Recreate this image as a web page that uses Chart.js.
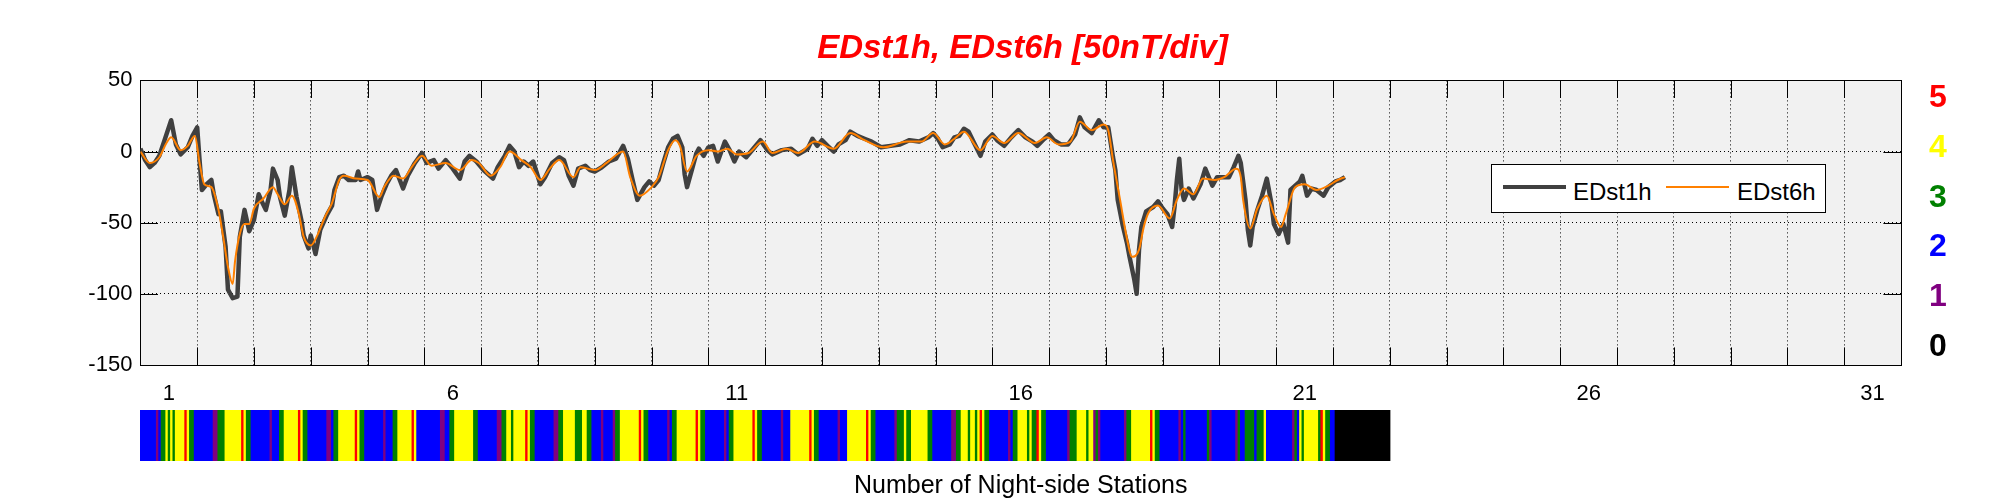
<!DOCTYPE html>
<html lang="en">
<head>
<meta charset="UTF-8">
<title>EDst1h, EDst6h</title>
<script src="https://cdn.jsdelivr.net/npm/chart.js"></script>
<style>
  body { margin: 0; background: #fff; font-family: "Liberation Sans", Arial, Helvetica, sans-serif; }
  #wrap { position: relative; width: 2001px; height: 500px; }
  #mainChart { position: absolute; left: 0; top: 0; }
  #barBox { position: absolute; left: 140px; top: 410px; width: 1761px; height: 51px; }
  #legend {
    position: absolute; left: 1491px; top: 164px; width: 335px; height: 49px;
    box-sizing: border-box; border: 1px solid #000; background: #fff;
  }
  #legend .sample { position: absolute; width: 63px; }
  #legend .label { position: absolute; top: 15px; font-size: 24px; line-height: 24px; color: #000; white-space: nowrap; }
</style>
</head>
<body>
<div id="wrap">
  <canvas id="mainChart" width="2001" height="500"></canvas>
  <div id="barBox"><canvas id="stationChart" width="1761" height="51"></canvas></div>
  <div id="legend"></div>
</div>

<script>
  // hours counted from day 1, 00 UT
  const e1hHours = [0,2,4,6,8,10,13,15,17,20,22,24,25,26,28,30,31,33,34,36,37,39,41,42,44,46,48,50,51,53,
    55,56,58,59,61,63,64,66,68,69,71,72,74,76,79,81,82,84,86,88,91,92,93,96,98,100,102,104,106,108,
    111,113,116,119,121,124,126,129,132,135,137,139,142,145,147,149,151,154,156,158,160,162,164,166,
    169,171,174,177,179,181,183,185,188,190,192,195,198,201,203,204,206,208,210,211,213,215,217,219,
    221,223,225,227,229,230,231,233,235,236,238,240,242,244,247,249,251,253,256,259,262,265,267,271,
    275,278,282,284,286,288,291,293,295,298,300,303,306,309,313,317,321,325,329,333,335,337,339,342,
    344,346,348,350,352,355,357,360,362,365,368,371,374,377,379,382,384,386,389,392,395,397,399,402,
    405,407,409,411,412,413,415,417,418,420,421,422,423,425,428,430,432,434,436,437,438,439,440,441,
    443,445,448,450,452,453,455,458,460,462,464,465,467,468,469,470,472,474,476,478,479,481,483,485,
    486,488,490,491,493,495,497,500,502,505,507,509];
  const e1hValues = [2,-6,-11,-8,-3,7,22,5,-2,3,11,17,-6,-27,-23,-20,-30,-44,-42,-67,-97,-103,-102,-60,-41,-56,-48,-30,-34,-41,
    -27,-12,-20,-32,-45,-27,-11,-32,-48,-59,-68,-59,-72,-55,-44,-38,-27,-18,-17,-20,-20,-14,-20,-18,-20,-41,-31,-23,-17,-13,
    -26,-17,-8,-1,-8,-6,-12,-6,-12,-19,-7,-3,-7,-13,-16,-19,-11,-3,4,0,-11,-7,-10,-7,
    -23,-18,-8,-4,-6,-17,-24,-12,-10,-13,-14,-11,-7,-5,1,4,-5,-20,-34,-31,-25,-21,-24,-20,
    -8,3,9,11,3,-16,-25,-13,-1,2,-3,3,4,-7,7,1,-7,0,-4,2,8,1,-2,1,
    2,-2,2,9,4,8,3,0,5,8,14,11,9,7,3,4,5,8,7,10,13,9,3,5,
    10,11,16,14,7,-3,7,12,8,4,10,15,10,7,4,9,12,8,5,5,12,24,17,13,
    22,17,17,-4,-13,-34,-51,-65,-74,-90,-100,-69,-53,-42,-39,-35,-40,-44,-53,-39,-20,-5,-27,-34,
    -26,-33,-23,-12,-20,-24,-18,-18,-18,-11,-3,-8,-34,-55,-66,-53,-41,-31,-19,-37,-51,-58,-51,-64,
    -27,-24,-21,-17,-31,-26,-27,-31,-25,-21,-20,-18];

  const e6hHours = [0,4,8,11,13,17,20,23,25,27,30,33,35,37,39,40,42,44,46,48,52,56,58,61,64,67,69,72,75,78,
    81,84,86,91,96,101,103,107,111,115,119,123,129,135,140,143,148,152,156,161,165,169,173,177,183,186,192,197,204,207,
    211,216,219,223,226,228,231,235,240,244,248,252,257,263,267,273,278,285,293,300,306,314,324,330,335,340,344,348,355,360,
    365,371,378,383,388,393,397,402,407,409,411,414,417,419,422,424,426,430,435,438,441,445,449,454,458,463,465,466,469,472,
    476,479,482,484,488,492,497,502,506,509];
  const e6hValues = [0,-8,-4,6,10,1,4,11,-8,-23,-25,-41,-60,-81,-93,-77,-58,-51,-51,-40,-33,-25,-30,-37,-31,-44,-60,-66,-58,-46,
    -36,-20,-17,-19,-20,-32,-25,-17,-19,-10,-3,-10,-8,-13,-6,-8,-17,-11,0,-6,-11,-20,-12,-6,-18,-11,-13,-8,0,-18,
    -31,-25,-18,1,8,4,-14,-3,1,0,2,-2,-1,7,-1,2,-1,7,2,13,8,3,7,7,13,5,9,14,1,11,
    6,13,6,10,5,7,21,15,19,15,-6,-34,-62,-74,-69,-53,-43,-38,-47,-34,-26,-30,-19,-20,-18,-12,-18,-34,-54,-40,
    -31,-44,-53,-44,-25,-23,-27,-24,-20,-18];

  // number of night-side stations, one digit per hour, one string per day
  const stationsByDay = [
    '222222212334343444454332', '222222211333444444454332', '222222212223344444454332',
    '222222211233444444454332', '222222212223344444454222', '222222211223344444444332',
    '222222211334434444454332', '222222211334444433344332', '222122221334444444454332',
    '222222212334444444454332', '222222212334444444454332', '222222212224444444454332',
    '222222212224444444454332', '222222213334334444444332', '222222211334443443454332',
    '222222212334444343354332', '222222221333444434413122', '222222221334444444454332',
    '222222212322222222231222', '222222213223333233342222', '222222213243444444354332',
    '200000000000000000000000'
  ];

  const dayLabels = [1, 6, 11, 16, 21, 26, 31];
  const yTicks = [-150, -100, -50, 0, 50];
  const stationLevels = [0, 1, 2, 3, 4, 5];
  const levelColors = ['#000000', '#800080', '#0000ff', '#008000', '#ffff00', '#ff0000'];

  Chart.defaults.font.family = '"Liberation Sans", Arial, Helvetica, sans-serif';

  const toPoints = (hours, values) => hours.map((h, i) => ({ x: 1 + h / 24, y: values[i] }));

  // grey plot background, box and inward tick marks (matlab look)
  const axesBox = {
    id: 'axesBox',
    beforeDraw(chart) {
      const { ctx, chartArea: a } = chart;
      ctx.save();
      ctx.fillStyle = '#f1f1f1';
      ctx.fillRect(a.left, a.top, a.right - a.left, a.bottom - a.top);
      ctx.restore();
    },
    beforeDatasetsDraw(chart) {
      const { ctx, chartArea: a, scales } = chart;
      const len = 17.6;
      ctx.save();
      ctx.strokeStyle = '#000';
      ctx.lineWidth = 1;
      ctx.beginPath();
      scales.x.ticks.forEach(t => {
        if (!Number.isInteger(t.value)) return;
        const px = Math.round(scales.x.getPixelForValue(t.value)) + 0.5;
        ctx.moveTo(px, a.bottom); ctx.lineTo(px, a.bottom - len);
        ctx.moveTo(px, a.top); ctx.lineTo(px, a.top + len);
      });
      scales.y.ticks.forEach(t => {
        const py = Math.round(scales.y.getPixelForValue(t.value)) + 0.5;
        ctx.moveTo(a.left, py); ctx.lineTo(a.left + len, py);
        ctx.moveTo(a.right, py); ctx.lineTo(a.right - len, py);
      });
      ctx.stroke();
      ctx.strokeRect(Math.round(a.left) + 0.5, Math.round(a.top) + 0.5,
        Math.round(a.right - a.left), Math.round(a.bottom - a.top));
      ctx.restore();
    }
  };

  const mainChart = new Chart(document.getElementById('mainChart'), {
    type: 'line',
    data: {
      datasets: [
        {
          label: 'EDst1h',
          data: toPoints(e1hHours, e1hValues),
          borderColor: '#404040',
          borderWidth: 4.5,
          borderJoinStyle: 'round',
          pointRadius: 0,
          order: 2
        },
        {
          label: 'EDst6h',
          data: toPoints(e6hHours, e6hValues),
          borderColor: '#ff8000',
          borderWidth: 2,
          pointRadius: 0,
          cubicInterpolationMode: 'monotone',
          order: 1
        }
      ]
    },
    options: {
      responsive: false,
      animation: false,
      events: [],
      layout: { padding: { left: 44, right: 0, top: 0, bottom: 0 } },
      plugins: {
        legend: { display: false },
        tooltip: { enabled: false },
        title: {
          display: true,
          text: 'EDst1h, EDst6h [50nT/div]',
          color: '#ff0000',
          font: { size: 33, weight: 'bold', style: 'italic' },
          padding: { top: 29, bottom: 11.8 }
        }
      },
      scales: {
        x: {
          type: 'linear', min: 1, max: 32, offset: false,
          afterBuildTicks: s => {
            const t = [];
            for (let v = 2; v <= 64; v++) t.push({ value: v / 2 });
            s.ticks = t;
          },
          afterFit: s => { s.height = 135; },
          grid: {
            drawTicks: false,
            lineWidth: 1,
            color: c => (Number.isInteger(c.tick.value) && c.tick.value > 1 && c.tick.value < 32) ? '#000' : 'rgba(0,0,0,0)'
          },
          border: { display: false, dash: [1, 3] },
          ticks: {
            autoSkip: false, maxRotation: 0, padding: 16, color: '#000', font: { size: 22 },
            callback: v => dayLabels.includes(v - 0.5) ? String(v - 0.5) : ''
          },
          title: {
            display: true, text: 'Number of Night-side Stations', color: '#000',
            font: { size: 25, lineHeight: 1 }, padding: { top: 0, bottom: 1 }
          }
        },
        y: {
          type: 'linear', min: -150, max: 50,
          afterBuildTicks: s => { s.ticks = yTicks.map(v => ({ value: v })); },
          afterFit: s => { s.width = 96.4; },
          grid: {
            drawTicks: false,
            lineWidth: 1,
            color: c => (c.tick.value > -150 && c.tick.value < 50) ? '#000' : 'rgba(0,0,0,0)'
          },
          border: { display: false, dash: [1, 3] },
          ticks: { padding: 8, color: '#000', font: { size: 22 } }
        },
        levels: {
          type: 'linear', axis: 'y', position: 'right', min: -0.36, max: 5.36,
          afterBuildTicks: s => { s.ticks = stationLevels.map(v => ({ value: v })); },
          afterFit: s => { s.width = 100; },
          grid: { display: false, drawTicks: false },
          border: { display: false },
          ticks: { padding: 28, font: { size: 32, weight: 'bold' }, color: c => levelColors[c.tick.value] }
        }
      }
    },
    plugins: [axesBox]
  });

  // legend box drawn from the datasets
  const legendEl = document.getElementById('legend');
  const legendSlots = [{ sample: 11, text: 81 }, { sample: 174, text: 245 }];
  mainChart.data.datasets.forEach((ds, i) => {
    const s = document.createElement('div');
    s.className = 'sample';
    s.style.left = legendSlots[i].sample + 'px';
    s.style.top = (22 - ds.borderWidth / 2) + 'px';
    s.style.height = ds.borderWidth + 'px';
    s.style.background = ds.borderColor;
    legendEl.appendChild(s);
    const t = document.createElement('div');
    t.className = 'label';
    t.style.left = legendSlots[i].text + 'px';
    t.textContent = ds.label;
    legendEl.appendChild(t);
  });

  // colour strip of night-side station counts
  const stationHours = stationsByDay.join('').split('').map(Number);
  new Chart(document.getElementById('stationChart'), {
    type: 'bar',
    data: {
      datasets: [{
        data: stationHours.map((n, h) => ({ x: 1 + (h + 0.5) / 24, y: 1 })),
        backgroundColor: stationHours.map(n => levelColors[n]),
        borderWidth: 0,
        barThickness: 3
      }]
    },
    options: {
      responsive: false,
      animation: false,
      events: [],
      layout: { padding: 0 },
      plugins: { legend: { display: false }, tooltip: { enabled: false } },
      scales: {
        x: { type: 'linear', min: 1, max: 32, offset: false, display: false },
        y: { min: 0, max: 1, display: false }
      }
    }
  });
</script>
</body>
</html>
